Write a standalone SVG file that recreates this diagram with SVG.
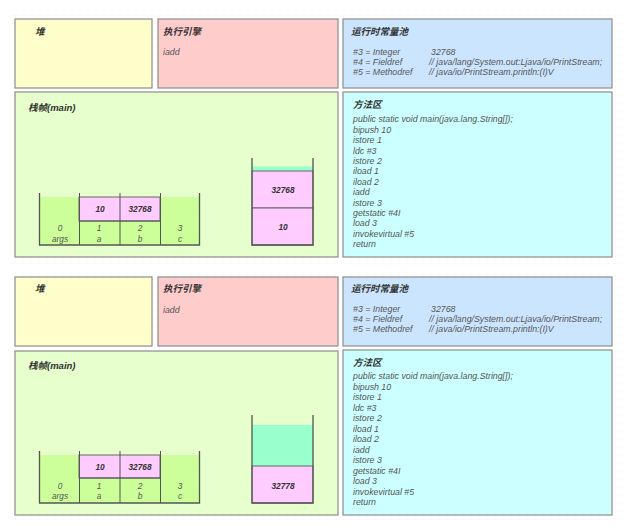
<svg xmlns="http://www.w3.org/2000/svg" width="634" height="527" viewBox="0 0 634 527">
<style>
.box{stroke:#8c8c8c;stroke-width:1.2}
.heap{fill:#ffffcc}
.eng{fill:#ffcccc}
.pool{fill:#cce5ff}
.frame{fill:#e6ffcc}
.meth{fill:#ccffff}
.ttl{font-family:"Liberation Sans","Noto Sans CJK SC",sans-serif;font-size:9.5px;font-weight:bold;font-style:italic;fill:#333;dominant-baseline:central}
.txt{font-family:"Liberation Sans","Noto Sans CJK SC",sans-serif;font-size:8.8px;font-style:italic;fill:#555;dominant-baseline:central}
.cell{font-family:"Liberation Sans",sans-serif;font-size:8.3px;font-style:italic;fill:#555;dominant-baseline:central;text-anchor:middle}
.val{font-family:"Liberation Sans",sans-serif;font-size:8.3px;font-weight:bold;font-style:italic;fill:#333;dominant-baseline:central;text-anchor:middle}
.green{fill:#ccff99}
.pink{fill:#ffccff;stroke:#666;stroke-width:1}
.teal{fill:#99ffcc}
.wall{stroke:#555;stroke-width:1.3;fill:none}
.div{stroke:#555;stroke-width:1}
</style>
<defs>
<pattern id="grid" width="8" height="8" patternUnits="userSpaceOnUse">
<path d="M8 0V8M0 8H8" stroke="#eeeeee" stroke-width="0.6" fill="none" stroke-dasharray="2 1"/>
</pattern>
</defs>
<rect width="634" height="527" fill="#ffffff"/>
<rect x="10" y="14" width="612" height="250" fill="url(#grid)"/>
<rect x="10" y="272" width="612" height="250" fill="url(#grid)"/>

<!-- Top section -->
<g id="heap1"><rect class="box heap" x="15" y="19" width="137" height="69"/><text class="ttl" x="35" y="31">堆</text></g>
<g id="engine1"><rect class="box eng" x="158" y="19" width="180" height="69"/><text class="ttl" x="163" y="31">执行引擎</text><text class="txt" x="163" y="52">iadd</text></g>
<g id="pool1"><rect class="box pool" x="343" y="19" width="269" height="69"/><text class="ttl" x="351" y="31">运行时常量池</text>
<text class="txt" x="353" y="51.5">#3 = Integer</text><text class="txt" x="431" y="51.5">32768</text>
<text class="txt" x="353" y="61.5">#4 = Fieldref</text><text class="txt" x="429" y="61.5">// java/lang/System.out:Ljava/io/PrintStream;</text>
<text class="txt" x="353" y="71.5">#5 = Methodref</text><text class="txt" x="429" y="71.5">// java/io/PrintStream.println:(I)V</text></g>
<g id="frame1"><rect class="box frame" x="15" y="92" width="323" height="165"/><text class="ttl" x="28" y="107">栈帧(main)</text>
<g id="locals1">
<rect class="green" x="39" y="197" width="161" height="48"/>
<rect class="pink" x="79" y="197" width="81" height="24"/>
<line class="div" x1="79" y1="221" x2="160" y2="221"/>
<line class="div" x1="79.5" y1="193" x2="79.5" y2="245"/>
<line class="div" x1="120" y1="193" x2="120" y2="245"/>
<line class="div" x1="160.5" y1="193" x2="160.5" y2="245"/>
<path class="wall" d="M39.5 193V245H199.5V193"/>
<text class="val" x="100" y="209">10</text><text class="val" x="140" y="209">32768</text>
<text class="cell" x="60" y="228">0</text><text class="cell" x="60" y="239">args</text>
<text class="cell" x="99" y="228">1</text><text class="cell" x="99" y="239">a</text>
<text class="cell" x="140" y="228">2</text><text class="cell" x="140" y="239">b</text>
<text class="cell" x="180" y="228">3</text><text class="cell" x="180" y="239">c</text>
</g>
<g id="opstack1">
<rect class="teal" x="252" y="166.5" width="61" height="4.5"/>
<rect class="pink" x="252" y="171" width="61" height="37"/>
<rect class="pink" x="252" y="208" width="61" height="37"/>
<path class="wall" d="M252 158V245H313V158"/>
<text class="val" x="283" y="189.5">32768</text><text class="val" x="283" y="227">10</text>
</g>
</g>
<g id="method1"><rect class="box meth" x="343" y="92" width="269" height="165"/><text class="ttl" x="353" y="104.5">方法区</text>
<text class="txt" x="353" y="119.3">public static void main(java.lang.String[]);</text>
<text class="txt" x="353" y="129.7">bipush 10</text>
<text class="txt" x="353" y="140.1">istore 1</text>
<text class="txt" x="353" y="150.5">ldc #3</text>
<text class="txt" x="353" y="160.9">istore 2</text>
<text class="txt" x="353" y="171.3">iload 1</text>
<text class="txt" x="353" y="181.7">iload 2</text>
<text class="txt" x="353" y="192.1">iadd</text>
<text class="txt" x="353" y="202.5">istore 3</text>
<text class="txt" x="353" y="212.9">getstatic #4I</text>
<text class="txt" x="353" y="223.3">load 3</text>
<text class="txt" x="353" y="233.7">invokevirtual #5</text>
<text class="txt" x="353" y="244.1">return</text></g>

<!-- Bottom section -->
<g id="heap2"><rect class="box heap" x="15" y="277" width="137" height="69"/><text class="ttl" x="35" y="288.5">堆</text></g>
<g id="engine2"><rect class="box eng" x="158" y="277" width="180" height="69"/><text class="ttl" x="163" y="288.5">执行引擎</text><text class="txt" x="163" y="310">iadd</text></g>
<g id="pool2"><rect class="box pool" x="343" y="277" width="269" height="69"/><text class="ttl" x="351" y="288.5">运行时常量池</text>
<text class="txt" x="353" y="308.5">#3 = Integer</text><text class="txt" x="431" y="308.5">32768</text>
<text class="txt" x="353" y="318.7">#4 = Fieldref</text><text class="txt" x="429" y="318.7">// java/lang/System.out:Ljava/io/PrintStream;</text>
<text class="txt" x="353" y="329">#5 = Methodref</text><text class="txt" x="429" y="329">// java/io/PrintStream.println:(I)V</text></g>
<g id="frame2"><rect class="box frame" x="15" y="351" width="323" height="164"/><text class="ttl" x="28" y="365.5">栈帧(main)</text>
<g id="locals2">
<rect class="green" x="39" y="455" width="161" height="48"/>
<rect class="pink" x="79" y="455" width="81" height="23"/>
<line class="div" x1="79" y1="478" x2="160" y2="478"/>
<line class="div" x1="79.5" y1="451" x2="79.5" y2="503"/>
<line class="div" x1="120" y1="451" x2="120" y2="503"/>
<line class="div" x1="160.5" y1="451" x2="160.5" y2="503"/>
<path class="wall" d="M39.5 451V503H199.5V451"/>
<text class="val" x="100" y="467">10</text><text class="val" x="140" y="467">32768</text>
<text class="cell" x="60" y="485.5">0</text><text class="cell" x="60" y="496">args</text>
<text class="cell" x="99" y="485.5">1</text><text class="cell" x="99" y="496">a</text>
<text class="cell" x="140" y="485.5">2</text><text class="cell" x="140" y="496">b</text>
<text class="cell" x="180" y="485.5">3</text><text class="cell" x="180" y="496">c</text>
</g>
<g id="opstack2">
<rect class="teal" x="252" y="425" width="61" height="41"/>
<rect class="pink" x="252" y="466" width="61" height="37"/>
<path class="wall" d="M252 415V503H313V415"/>
<text class="val" x="283" y="485.5">32778</text>
</g>
</g>
<g id="method2"><rect class="box meth" x="343" y="350" width="269" height="165"/><text class="ttl" x="353" y="362.5">方法区</text>
<text class="txt" x="353" y="376">public static void main(java.lang.String[]);</text>
<text class="txt" x="353" y="386.5">bipush 10</text>
<text class="txt" x="353" y="397">istore 1</text>
<text class="txt" x="353" y="407.5">ldc #3</text>
<text class="txt" x="353" y="418">istore 2</text>
<text class="txt" x="353" y="428.5">iload 1</text>
<text class="txt" x="353" y="439">iload 2</text>
<text class="txt" x="353" y="449.5">iadd</text>
<text class="txt" x="353" y="460">istore 3</text>
<text class="txt" x="353" y="470.5">getstatic #4I</text>
<text class="txt" x="353" y="481">load 3</text>
<text class="txt" x="353" y="491.5">invokevirtual #5</text>
<text class="txt" x="353" y="502">return</text></g>
<g id="connectors"></g>
</svg>
